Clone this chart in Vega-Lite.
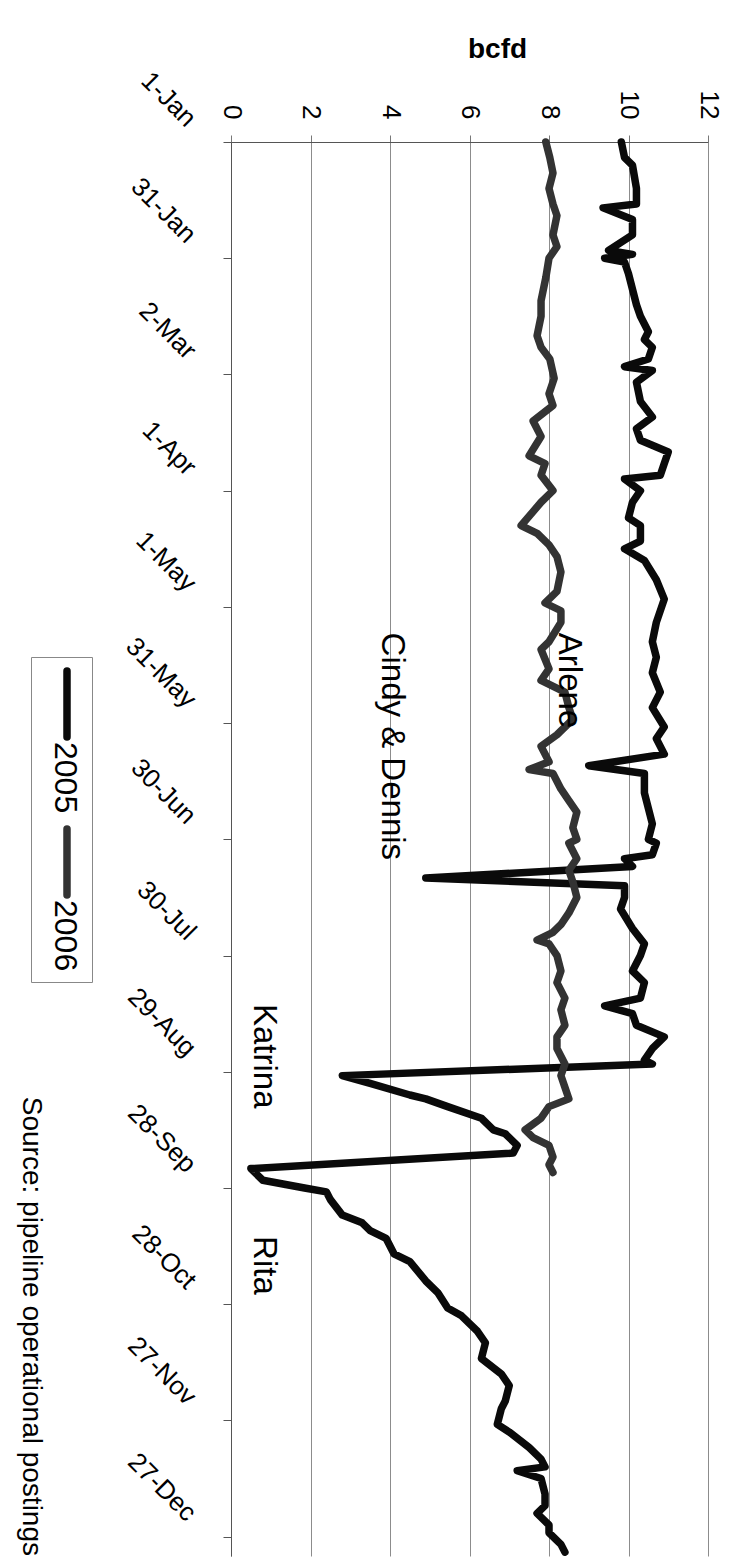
{
  "$schema": "https://vega.github.io/schema/vega-lite/v6.json",
  "width": 477,
  "height": 1414,
  "autosize": {"type": "none"},
  "padding": {"left": 231, "top": 142, "right": 35, "bottom": 10},
  "background": "white",
  "config": {
    "view": {"stroke": null},
    "font": "Liberation Sans",
    "axis": {"labelFont": "Liberation Sans", "titleFont": "Liberation Sans", "labelColor": "black", "titleColor": "black"},
    "legend": {"labelFont": "Liberation Sans"}
  },
  "title": {
    "text": "Source: pipeline operational postings",
    "orient": "left",
    "angle": 90,
    "anchor": "start",
    "align": "right",
    "baseline": "top",
    "fontSize": 28,
    "fontWeight": "normal",
    "font": "Liberation Sans",
    "color": "black",
    "offset": -42
  },
  "datasets": {
    "flows": [
      {"date": "2005-01-01", "year": "2005", "bcfd": 9.82},
      {"date": "2005-01-05", "year": "2005", "bcfd": 9.9},
      {"date": "2005-01-07", "year": "2005", "bcfd": 10.1},
      {"date": "2005-01-13", "year": "2005", "bcfd": 10.2},
      {"date": "2005-01-17", "year": "2005", "bcfd": 10.2},
      {"date": "2005-01-18", "year": "2005", "bcfd": 9.36},
      {"date": "2005-01-21", "year": "2005", "bcfd": 10.1},
      {"date": "2005-01-25", "year": "2005", "bcfd": 10.1},
      {"date": "2005-01-29", "year": "2005", "bcfd": 9.5},
      {"date": "2005-01-30", "year": "2005", "bcfd": 10.1},
      {"date": "2005-01-31", "year": "2005", "bcfd": 9.4},
      {"date": "2005-02-01", "year": "2005", "bcfd": 9.9},
      {"date": "2005-02-04", "year": "2005", "bcfd": 10.0},
      {"date": "2005-02-08", "year": "2005", "bcfd": 10.1},
      {"date": "2005-02-12", "year": "2005", "bcfd": 10.2},
      {"date": "2005-02-15", "year": "2005", "bcfd": 10.3},
      {"date": "2005-02-19", "year": "2005", "bcfd": 10.5},
      {"date": "2005-02-21", "year": "2005", "bcfd": 10.4},
      {"date": "2005-02-23", "year": "2005", "bcfd": 10.6},
      {"date": "2005-02-26", "year": "2005", "bcfd": 10.5},
      {"date": "2005-02-28", "year": "2005", "bcfd": 9.9},
      {"date": "2005-03-01", "year": "2005", "bcfd": 10.6},
      {"date": "2005-03-04", "year": "2005", "bcfd": 10.2},
      {"date": "2005-03-09", "year": "2005", "bcfd": 10.3},
      {"date": "2005-03-13", "year": "2005", "bcfd": 10.6},
      {"date": "2005-03-16", "year": "2005", "bcfd": 10.2},
      {"date": "2005-03-19", "year": "2005", "bcfd": 10.3},
      {"date": "2005-03-22", "year": "2005", "bcfd": 11.0},
      {"date": "2005-03-25", "year": "2005", "bcfd": 10.9},
      {"date": "2005-03-28", "year": "2005", "bcfd": 10.8},
      {"date": "2005-03-29", "year": "2005", "bcfd": 9.9},
      {"date": "2005-04-01", "year": "2005", "bcfd": 10.3},
      {"date": "2005-04-04", "year": "2005", "bcfd": 10.1},
      {"date": "2005-04-08", "year": "2005", "bcfd": 10.0},
      {"date": "2005-04-10", "year": "2005", "bcfd": 10.3},
      {"date": "2005-04-14", "year": "2005", "bcfd": 10.3},
      {"date": "2005-04-16", "year": "2005", "bcfd": 9.9},
      {"date": "2005-04-19", "year": "2005", "bcfd": 10.4},
      {"date": "2005-04-24", "year": "2005", "bcfd": 10.7},
      {"date": "2005-04-29", "year": "2005", "bcfd": 10.9},
      {"date": "2005-05-05", "year": "2005", "bcfd": 10.7},
      {"date": "2005-05-10", "year": "2005", "bcfd": 10.6},
      {"date": "2005-05-14", "year": "2005", "bcfd": 10.7},
      {"date": "2005-05-18", "year": "2005", "bcfd": 10.6},
      {"date": "2005-05-23", "year": "2005", "bcfd": 10.8},
      {"date": "2005-05-27", "year": "2005", "bcfd": 10.6},
      {"date": "2005-06-01", "year": "2005", "bcfd": 10.9},
      {"date": "2005-06-04", "year": "2005", "bcfd": 10.7},
      {"date": "2005-06-08", "year": "2005", "bcfd": 10.9},
      {"date": "2005-06-11", "year": "2005", "bcfd": 9.0},
      {"date": "2005-06-13", "year": "2005", "bcfd": 10.4},
      {"date": "2005-06-18", "year": "2005", "bcfd": 10.4},
      {"date": "2005-06-22", "year": "2005", "bcfd": 10.5},
      {"date": "2005-06-26", "year": "2005", "bcfd": 10.6},
      {"date": "2005-06-30", "year": "2005", "bcfd": 10.5},
      {"date": "2005-07-01", "year": "2005", "bcfd": 10.7},
      {"date": "2005-07-04", "year": "2005", "bcfd": 10.6},
      {"date": "2005-07-05", "year": "2005", "bcfd": 9.9},
      {"date": "2005-07-07", "year": "2005", "bcfd": 10.1},
      {"date": "2005-07-10", "year": "2005", "bcfd": 4.9},
      {"date": "2005-07-12", "year": "2005", "bcfd": 9.9},
      {"date": "2005-07-15", "year": "2005", "bcfd": 9.9},
      {"date": "2005-07-18", "year": "2005", "bcfd": 9.8},
      {"date": "2005-07-23", "year": "2005", "bcfd": 10.1},
      {"date": "2005-07-27", "year": "2005", "bcfd": 10.4},
      {"date": "2005-07-30", "year": "2005", "bcfd": 10.3},
      {"date": "2005-08-03", "year": "2005", "bcfd": 10.1},
      {"date": "2005-08-06", "year": "2005", "bcfd": 10.4},
      {"date": "2005-08-10", "year": "2005", "bcfd": 10.3},
      {"date": "2005-08-12", "year": "2005", "bcfd": 9.4},
      {"date": "2005-08-14", "year": "2005", "bcfd": 10.1},
      {"date": "2005-08-17", "year": "2005", "bcfd": 10.2},
      {"date": "2005-08-20", "year": "2005", "bcfd": 10.9},
      {"date": "2005-08-23", "year": "2005", "bcfd": 10.6},
      {"date": "2005-08-26", "year": "2005", "bcfd": 10.4},
      {"date": "2005-08-27", "year": "2005", "bcfd": 10.6},
      {"date": "2005-08-30", "year": "2005", "bcfd": 2.8},
      {"date": "2005-09-01", "year": "2005", "bcfd": 3.5},
      {"date": "2005-09-04", "year": "2005", "bcfd": 4.5},
      {"date": "2005-09-05", "year": "2005", "bcfd": 4.9},
      {"date": "2005-09-07", "year": "2005", "bcfd": 5.45},
      {"date": "2005-09-10", "year": "2005", "bcfd": 6.3},
      {"date": "2005-09-13", "year": "2005", "bcfd": 6.6},
      {"date": "2005-09-14", "year": "2005", "bcfd": 6.9},
      {"date": "2005-09-17", "year": "2005", "bcfd": 7.2},
      {"date": "2005-09-19", "year": "2005", "bcfd": 7.1},
      {"date": "2005-09-23", "year": "2005", "bcfd": 0.5},
      {"date": "2005-09-26", "year": "2005", "bcfd": 0.8},
      {"date": "2005-09-28", "year": "2005", "bcfd": 1.85},
      {"date": "2005-09-29", "year": "2005", "bcfd": 2.4},
      {"date": "2005-10-01", "year": "2005", "bcfd": 2.5},
      {"date": "2005-10-05", "year": "2005", "bcfd": 2.8},
      {"date": "2005-10-07", "year": "2005", "bcfd": 3.3},
      {"date": "2005-10-09", "year": "2005", "bcfd": 3.5},
      {"date": "2005-10-11", "year": "2005", "bcfd": 3.9},
      {"date": "2005-10-15", "year": "2005", "bcfd": 4.1},
      {"date": "2005-10-17", "year": "2005", "bcfd": 4.5},
      {"date": "2005-10-22", "year": "2005", "bcfd": 4.9},
      {"date": "2005-10-25", "year": "2005", "bcfd": 5.2},
      {"date": "2005-10-29", "year": "2005", "bcfd": 5.45},
      {"date": "2005-10-31", "year": "2005", "bcfd": 5.8},
      {"date": "2005-11-04", "year": "2005", "bcfd": 6.2},
      {"date": "2005-11-07", "year": "2005", "bcfd": 6.4},
      {"date": "2005-11-11", "year": "2005", "bcfd": 6.3},
      {"date": "2005-11-15", "year": "2005", "bcfd": 6.8},
      {"date": "2005-11-18", "year": "2005", "bcfd": 7.0},
      {"date": "2005-11-22", "year": "2005", "bcfd": 6.9},
      {"date": "2005-11-24", "year": "2005", "bcfd": 6.8},
      {"date": "2005-11-28", "year": "2005", "bcfd": 6.7},
      {"date": "2005-11-30", "year": "2005", "bcfd": 7.0},
      {"date": "2005-12-04", "year": "2005", "bcfd": 7.5},
      {"date": "2005-12-07", "year": "2005", "bcfd": 7.8},
      {"date": "2005-12-09", "year": "2005", "bcfd": 7.9},
      {"date": "2005-12-10", "year": "2005", "bcfd": 7.2},
      {"date": "2005-12-12", "year": "2005", "bcfd": 7.8},
      {"date": "2005-12-16", "year": "2005", "bcfd": 7.9},
      {"date": "2005-12-19", "year": "2005", "bcfd": 7.9},
      {"date": "2005-12-21", "year": "2005", "bcfd": 7.7},
      {"date": "2005-12-24", "year": "2005", "bcfd": 8.0},
      {"date": "2005-12-26", "year": "2005", "bcfd": 8.0},
      {"date": "2005-12-29", "year": "2005", "bcfd": 8.3},
      {"date": "2005-12-31", "year": "2005", "bcfd": 8.4},
      {"date": "2005-01-01", "year": "2006", "bcfd": 7.92},
      {"date": "2005-01-05", "year": "2006", "bcfd": 8.02},
      {"date": "2005-01-09", "year": "2006", "bcfd": 8.1},
      {"date": "2005-01-13", "year": "2006", "bcfd": 8.0},
      {"date": "2005-01-17", "year": "2006", "bcfd": 8.1},
      {"date": "2005-01-20", "year": "2006", "bcfd": 8.2},
      {"date": "2005-01-25", "year": "2006", "bcfd": 8.1},
      {"date": "2005-01-28", "year": "2006", "bcfd": 8.2},
      {"date": "2005-01-31", "year": "2006", "bcfd": 8.0},
      {"date": "2005-02-05", "year": "2006", "bcfd": 7.92},
      {"date": "2005-02-11", "year": "2006", "bcfd": 7.8},
      {"date": "2005-02-15", "year": "2006", "bcfd": 7.8},
      {"date": "2005-02-20", "year": "2006", "bcfd": 7.7},
      {"date": "2005-02-23", "year": "2006", "bcfd": 7.8},
      {"date": "2005-02-26", "year": "2006", "bcfd": 8.02},
      {"date": "2005-03-03", "year": "2006", "bcfd": 8.13},
      {"date": "2005-03-07", "year": "2006", "bcfd": 8.0},
      {"date": "2005-03-10", "year": "2006", "bcfd": 8.1},
      {"date": "2005-03-14", "year": "2006", "bcfd": 7.6},
      {"date": "2005-03-18", "year": "2006", "bcfd": 7.8},
      {"date": "2005-03-23", "year": "2006", "bcfd": 7.5},
      {"date": "2005-03-25", "year": "2006", "bcfd": 7.9},
      {"date": "2005-03-28", "year": "2006", "bcfd": 7.8},
      {"date": "2005-04-01", "year": "2006", "bcfd": 8.1},
      {"date": "2005-04-04", "year": "2006", "bcfd": 7.8},
      {"date": "2005-04-10", "year": "2006", "bcfd": 7.3},
      {"date": "2005-04-12", "year": "2006", "bcfd": 7.7},
      {"date": "2005-04-15", "year": "2006", "bcfd": 8.0},
      {"date": "2005-04-18", "year": "2006", "bcfd": 8.2},
      {"date": "2005-04-22", "year": "2006", "bcfd": 8.3},
      {"date": "2005-04-27", "year": "2006", "bcfd": 8.2},
      {"date": "2005-04-30", "year": "2006", "bcfd": 7.9},
      {"date": "2005-05-02", "year": "2006", "bcfd": 8.3},
      {"date": "2005-05-05", "year": "2006", "bcfd": 8.3},
      {"date": "2005-05-10", "year": "2006", "bcfd": 8.0},
      {"date": "2005-05-12", "year": "2006", "bcfd": 7.8},
      {"date": "2005-05-17", "year": "2006", "bcfd": 8.0},
      {"date": "2005-05-20", "year": "2006", "bcfd": 7.8},
      {"date": "2005-05-23", "year": "2006", "bcfd": 8.4},
      {"date": "2005-05-27", "year": "2006", "bcfd": 8.5},
      {"date": "2005-05-30", "year": "2006", "bcfd": 8.6},
      {"date": "2005-06-03", "year": "2006", "bcfd": 8.2},
      {"date": "2005-06-06", "year": "2006", "bcfd": 7.8},
      {"date": "2005-06-10", "year": "2006", "bcfd": 8.0},
      {"date": "2005-06-12", "year": "2006", "bcfd": 7.5},
      {"date": "2005-06-13", "year": "2006", "bcfd": 8.1},
      {"date": "2005-06-17", "year": "2006", "bcfd": 8.3},
      {"date": "2005-06-20", "year": "2006", "bcfd": 8.5},
      {"date": "2005-06-23", "year": "2006", "bcfd": 8.7},
      {"date": "2005-06-27", "year": "2006", "bcfd": 8.6},
      {"date": "2005-06-30", "year": "2006", "bcfd": 8.7},
      {"date": "2005-07-01", "year": "2006", "bcfd": 8.5},
      {"date": "2005-07-05", "year": "2006", "bcfd": 8.7},
      {"date": "2005-07-08", "year": "2006", "bcfd": 8.5},
      {"date": "2005-07-11", "year": "2006", "bcfd": 8.6},
      {"date": "2005-07-15", "year": "2006", "bcfd": 8.7},
      {"date": "2005-07-19", "year": "2006", "bcfd": 8.5},
      {"date": "2005-07-22", "year": "2006", "bcfd": 8.3},
      {"date": "2005-07-24", "year": "2006", "bcfd": 8.1},
      {"date": "2005-07-26", "year": "2006", "bcfd": 7.7},
      {"date": "2005-07-27", "year": "2006", "bcfd": 8.0},
      {"date": "2005-07-30", "year": "2006", "bcfd": 8.2},
      {"date": "2005-08-03", "year": "2006", "bcfd": 8.3},
      {"date": "2005-08-06", "year": "2006", "bcfd": 8.2},
      {"date": "2005-08-10", "year": "2006", "bcfd": 8.4},
      {"date": "2005-08-13", "year": "2006", "bcfd": 8.3},
      {"date": "2005-08-17", "year": "2006", "bcfd": 8.4},
      {"date": "2005-08-20", "year": "2006", "bcfd": 8.2},
      {"date": "2005-08-23", "year": "2006", "bcfd": 8.2},
      {"date": "2005-08-27", "year": "2006", "bcfd": 8.4},
      {"date": "2005-08-30", "year": "2006", "bcfd": 8.3},
      {"date": "2005-09-02", "year": "2006", "bcfd": 8.4},
      {"date": "2005-09-05", "year": "2006", "bcfd": 8.5},
      {"date": "2005-09-07", "year": "2006", "bcfd": 8.0},
      {"date": "2005-09-10", "year": "2006", "bcfd": 7.8},
      {"date": "2005-09-13", "year": "2006", "bcfd": 7.4},
      {"date": "2005-09-15", "year": "2006", "bcfd": 7.6},
      {"date": "2005-09-17", "year": "2006", "bcfd": 8.0},
      {"date": "2005-09-20", "year": "2006", "bcfd": 8.1},
      {"date": "2005-09-22", "year": "2006", "bcfd": 8.0},
      {"date": "2005-09-24", "year": "2006", "bcfd": 8.1}
    ],
    "storms": [
      {"date": "2005-05-20", "bcfd": 8.5, "label": "Arlene"},
      {"date": "2005-06-06", "bcfd": 4.06, "label": "Cindy & Dennis"},
      {"date": "2005-08-25", "bcfd": 0.82, "label": "Katrina"},
      {"date": "2005-10-18", "bcfd": 0.82, "label": "Rita"}
    ]
  },
  "layer": [
    {
      "data": {"name": "flows"},
      "mark": {"type": "line", "strokeWidth": 7.5, "strokeJoin": "round", "strokeCap": "round"},
      "encoding": {
        "y": {
          "field": "date",
          "type": "temporal",
          "scale": {
            "type": "utc",
            "reverse": true,
            "domain": [
              {"year": 2005, "month": 1, "date": 1, "utc": true},
              {"year": 2006, "month": 1, "date": 1, "utc": true}
            ]
          },
          "axis": {
            "orient": "left",
            "title": null,
            "values": [
              {"year": 2005, "month": 1, "date": 1, "utc": true},
              {"year": 2005, "month": 1, "date": 31, "utc": true},
              {"year": 2005, "month": 3, "date": 2, "utc": true},
              {"year": 2005, "month": 4, "date": 1, "utc": true},
              {"year": 2005, "month": 5, "date": 1, "utc": true},
              {"year": 2005, "month": 5, "date": 31, "utc": true},
              {"year": 2005, "month": 6, "date": 30, "utc": true},
              {"year": 2005, "month": 7, "date": 30, "utc": true},
              {"year": 2005, "month": 8, "date": 29, "utc": true},
              {"year": 2005, "month": 9, "date": 28, "utc": true},
              {"year": 2005, "month": 10, "date": 28, "utc": true},
              {"year": 2005, "month": 11, "date": 27, "utc": true},
              {"year": 2005, "month": 12, "date": 27, "utc": true}
            ],
            "format": "%-d-%b",
            "grid": false,
            "domain": true,
            "domainColor": "#555555",
            "domainWidth": 1,
            "ticks": true,
            "tickSize": 8,
            "tickColor": "#555555",
            "labelAngle": 45,
            "labelAlign": "right",
            "labelBaseline": "middle",
            "labelFontSize": 26,
            "labelPadding": 32,
            "labelOffset": -20,
            "labelOverlap": false,
            "labelFlush": false,
            "labelBound": false
          }
        },
        "x": {
          "field": "bcfd",
          "type": "quantitative",
          "scale": {"domain": [0, 12], "nice": false, "zero": true},
          "axis": {
            "orient": "top",
            "title": "bcfd",
            "titleFontSize": 28,
            "titleFontWeight": "bold",
            "titleX": 266,
            "titleY": -85,
            "titleAlign": "center",
            "titleBaseline": "alphabetic",
            "titleAngle": 0,
            "values": [0, 2, 4, 6, 8, 10, 12],
            "grid": true,
            "gridColor": "#8c8c8c",
            "gridWidth": 1,
            "domain": true,
            "domainColor": "#555555",
            "ticks": true,
            "tickSize": 7,
            "tickColor": "#777777",
            "labelAngle": 90,
            "labelAlign": "right",
            "labelBaseline": "middle",
            "labelFontSize": 26,
            "labelPadding": 16,
            "labelFlush": false,
            "labelOverlap": false
          }
        },
        "color": {
          "field": "year",
          "type": "nominal",
          "scale": {"domain": ["2005", "2006"], "range": ["#0a0a0a", "#333333"]},
          "legend": {
            "title": null,
            "orient": "none",
            "legendX": -200,
            "legendY": 515,
            "direction": "vertical",
            "symbolType": "M0,-1L0,2",
            "symbolSize": 1936,
            "symbolStrokeWidth": 7.5,
            "labelFontSize": 32,
            "labelOffset": -28,
            "strokeColor": "#888888",
            "fillColor": "white",
            "padding": 10,
            "rowPadding": 0,
            "encode": {
              "labels": {"update": {"angle": {"value": 90}, "align": {"value": "left"}, "baseline": {"value": "middle"}, "dx": {"value": 49}}},
              "symbols": {"update": {"strokeCap": {"value": "round"}}}
            }
          }
        },
        "order": {"field": "date", "type": "temporal"}
      }
    },
    {
      "data": {"name": "storms"},
      "mark": {"type": "text", "angle": 90, "fontSize": 33, "font": "Liberation Sans", "align": "center", "baseline": "middle", "color": "black"},
      "encoding": {
        "y": {"field": "date", "type": "temporal"},
        "x": {"field": "bcfd", "type": "quantitative"},
        "text": {"field": "label"}
      }
    }
  ]
}
